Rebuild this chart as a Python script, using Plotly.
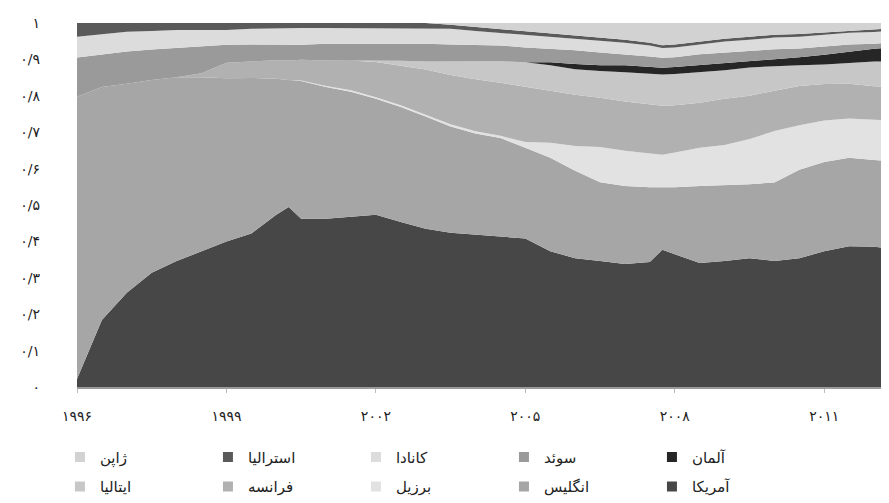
import plotly.graph_objects as go

years = [1996.0, 1996.5, 1997.0, 1997.5, 1998.0, 1998.5, 1999.0, 1999.5, 2000.0, 2000.25,
         2000.5, 2001.0, 2001.5, 2002.0, 2002.5, 2003.0, 2003.5, 2004.0, 2004.5, 2005.0,
         2005.5, 2006.0, 2006.5, 2007.0, 2007.5, 2007.75, 2008.0, 2008.5, 2009.0, 2009.5,
         2010.0, 2010.5, 2011.0, 2011.5, 2012.0, 2012.3]

usa = [2.2, 18.4, 25.9, 31.4, 34.6, 37.3, 40.0, 42.2, 47.3, 49.5,
       46.2, 46.2, 46.8, 47.3, 45.4, 43.5, 42.4, 41.9, 41.4, 40.8,
       37.3, 35.4, 34.6, 33.8, 34.3, 37.8, 36.5, 34.1, 34.6, 35.4,
       34.6, 35.4, 37.3, 38.6, 38.6, 38.1]
uk = [77.6, 64.1, 57.3, 53.0, 50.5, 47.8, 44.9, 42.7, 37.3, 34.9,
      37.8, 36.2, 34.3, 31.9, 31.6, 30.8, 29.2, 27.8, 27.0, 24.9,
      25.7, 24.1, 21.6, 21.4, 20.5, 17.2, 18.4, 21.1, 20.8, 20.3,
      21.6, 24.3, 24.6, 24.3, 23.8, 24.1]
brazil = [0, 0, 0, 0, 0, 0, 0, 0, 0, 0,
          0.1, 0.3, 0.4, 0.4, 0.5, 0.5, 0.6, 0.6, 0.6, 1.6,
          4.1, 6.8, 9.7, 9.7, 9.2, 8.9, 9.5, 10.5, 11.1, 12.4,
          14.1, 12.2, 11.4, 10.8, 11.1, 11.1]
france = [0, 0, 0, 0, 0, 1.1, 4.3, 4.6, 5.1, 5.4,
          5.7, 7.0, 8.2, 9.7, 10.8, 12.4, 13.5, 14.3, 14.6, 15.1,
          14.3, 14.1, 13.5, 13.5, 13.5, 13.5, 13.0, 12.4, 12.7, 11.9,
          11.1, 10.8, 10.0, 9.5, 9.2, 9.2]
italy = [0, 0, 0, 0, 0, 0, 0, 0, 0, 0,
         0, 0, 0, 0.3, 1.4, 2.2, 3.8, 4.9, 5.9, 6.8,
         7.0, 7.0, 7.3, 8.1, 8.6, 8.6, 8.6, 8.4, 7.8, 7.8,
         6.8, 5.7, 5.4, 5.7, 6.8, 7.0]
germany = [0, 0, 0, 0, 0, 0, 0, 0, 0, 0,
           0, 0, 0, 0, 0, 0, 0, 0, 0, 0,
           0.8, 1.4, 1.6, 1.9, 1.9, 1.9, 1.9, 1.9, 1.9, 1.6,
           1.9, 2.2, 2.7, 3.2, 3.5, 3.8]
sweden = [10.8, 8.9, 8.9, 8.4, 8.1, 7.3, 4.9, 4.6, 4.3, 4.3,
          4.1, 4.6, 4.6, 4.9, 4.9, 4.9, 4.6, 4.6, 4.3, 4.1,
          3.8, 3.8, 3.5, 3.0, 2.7, 2.7, 2.7, 3.0, 3.0, 3.0,
          2.7, 2.4, 2.2, 1.9, 1.4, 1.4]
canada = [5.7, 5.7, 5.4, 5.1, 4.9, 4.6, 4.1, 4.3, 4.3, 4.6,
          4.6, 4.3, 4.3, 4.1, 4.1, 4.3, 4.3, 3.8, 3.5, 3.5,
          3.2, 3.2, 3.2, 3.2, 3.0, 2.7, 2.7, 2.7, 3.0, 3.0,
          3.2, 3.2, 3.2, 3.2, 3.2, 3.2]
australia = [3.8, 3.0, 2.4, 2.2, 1.9, 1.9, 1.9, 1.6, 1.6, 1.4,
             1.4, 1.4, 1.4, 1.4, 1.4, 1.4, 1.1, 1.1, 1.1, 0.8,
             0.8, 0.8, 0.8, 0.8, 0.8, 0.8, 0.8, 0.8, 0.8, 0.8,
             0.8, 0.8, 0.7, 0.7, 0.7, 0.7]
japan = [0, 0, 0, 0, 0, 0, 0, 0, 0, 0,
         0, 0, 0, 0, 0, 0, 0.5, 1.1, 1.6, 2.4,
         3.0, 3.5, 4.1, 4.6, 5.4, 6.1, 5.9, 5.1, 4.3, 3.8,
         3.2, 3.0, 2.6, 2.0, 1.8, 1.5]

# (name, values, colour, legend row)
series = [
    ("آمریکا", usa, "#474747", "legend2"),
    ("انگلیس", uk, "#a6a6a6", "legend2"),
    ("برزیل", brazil, "#e2e2e2", "legend2"),
    ("فرانسه", france, "#b1b1b1", "legend2"),
    ("ایتالیا", italy, "#c7c7c7", "legend2"),
    ("آلمان", germany, "#262626", "legend"),
    ("سوئد", sweden, "#9a9a9a", "legend"),
    ("کانادا", canada, "#dcdcdc", "legend"),
    ("استرالیا", australia, "#5a5a5a", "legend"),
    ("ژاپن", japan, "#d2d2d2", "legend"),
]

y_ticks = [0, 0.1, 0.2, 0.3, 0.4, 0.5, 0.6, 0.7, 0.8, 0.9, 1.0]
y_labels = ["۰", "۰/۱", "۰/۲", "۰/۳", "۰/۴", "۰/۵", "۰/۶", "۰/۷", "۰/۸", "۰/۹", "۱"]
x_ticks = [1996, 1999, 2002, 2005, 2008, 2011]
x_labels = ["۱۹۹۶", "۱۹۹۹", "۲۰۰۲", "۲۰۰۵", "۲۰۰۸", "۲۰۱۱"]

fig = go.Figure()
for name, vals, col, lg in series:
    fig.add_trace(go.Scatter(
        x=years, y=vals, name=name, mode="lines",
        stackgroup="one", groupnorm="fraction",
        line=dict(width=0, color=col), fillcolor=col,
        showlegend=False,
    ))
# legend swatches (square markers)
for name, vals, col, lg in series:
    fig.add_trace(go.Scatter(
        x=[None], y=[None], name=name, mode="markers",
        marker=dict(symbol="square", size=10, color=col),
        legend=lg, showlegend=True,
    ))

font = "DejaVu Sans"
legend_common = dict(orientation="h", traceorder="reversed",
                     xanchor="left", yanchor="middle",
                     entrywidth=103, entrywidthmode="pixels",
                     itemwidth=30, bgcolor="rgba(0,0,0,0)",
                     font=dict(family=font, size=15, color="#222"))
fig.update_layout(
    width=889, height=503,
    margin=dict(l=69, r=8, t=15, b=118),
    paper_bgcolor="white", plot_bgcolor="white",
    font=dict(family=font, size=14, color="#222"),
    showlegend=True,
    legend=dict(x=-0.021, y=-0.193, **legend_common),
    legend2=dict(x=-0.021, y=-0.274, **legend_common),
    xaxis=dict(range=[1996, 2012.3], tickvals=x_ticks, ticktext=x_labels,
               showgrid=False, zeroline=False, showline=True, automargin=False,
               linecolor="#9a9a9a", linewidth=2, ticks="outside",
               ticklen=4, tickcolor="#bbbbbb", ticklabelstandoff=11,
               tickfont=dict(family=font, size=14, color="#222")),
    yaxis=dict(range=[0, 1], tickvals=y_ticks, ticktext=y_labels,
               showgrid=False, zeroline=False, showline=False, automargin=False,
               ticklabelstandoff=36,
               tickfont=dict(family=font, size=14, color="#222")),
)

fig.write_html("out.html")
